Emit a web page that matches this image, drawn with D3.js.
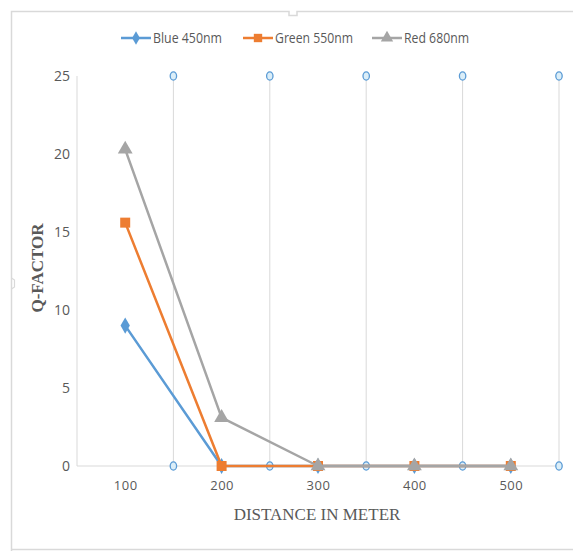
<!DOCTYPE html>
<html>
<head>
<meta charset="utf-8">
<script src="https://cdn.jsdelivr.net/npm/d3@7"></script>
<style>
  html, body { margin: 0; padding: 0; background: #fff; }
  svg { display: block; }
</style>
</head>
<body>
<svg id="chart" width="573" height="551"></svg>
<script>
// Distances (m) and Q-factor per wavelength
const distances = [100, 200, 300, 400, 500];
const blue450 = [9.0, 0, 0, 0, 0];
const green550 = [15.6, 0, 0, 0, 0];
const red680 = [20.3, 3.1, 0, 0, 0];
const yTicks = [0, 5, 10, 15, 20, 25];
const gridPositions = [150, 250, 350, 450, 550];

const seriesList = [
  { name: "Blue 450nm", values: blue450, color: "#5b9bd5", marker: d3.symbolDiamond, size: 75, legendW: 69 },
  { name: "Green 550nm", values: green550, color: "#ed7d31", marker: d3.symbolSquare, size: 100, legendW: 78 },
  { name: "Red 680nm", values: red680, color: "#a5a5a5", marker: d3.symbolTriangle, size: 95, legendW: 65 }
];

const svg = d3.select("#chart");
const tickFont = "'Liberation Sans Narrow', 'Open Sans', sans-serif";
const titleFont = "'Liberation Serif', 'DejaVu Serif', serif";

// Chart frame
svg.append("path")
  .attr("d", "M11.5,560 L11.5,11.5 L289,11.5 L289,15.5 L297,15.5 L297,11.5 L580,11.5 M11.5,549.5 L580,549.5")
  .attr("fill", "none").attr("stroke", "#d9d9d9").attr("stroke-width", 1.5);
svg.append("path")
  .attr("d", "M11.5,278 L14.5,280 L14.5,287 L11.5,289")
  .attr("fill", "none").attr("stroke", "#d9d9d9").attr("stroke-width", 1.2);

const x = d3.scaleLinear().domain([50, 550]).range([77, 559]);
const y = d3.scaleLinear().domain([0, 25]).range([466, 76]);

// Vertical grid lines
const g = svg.append("g");
g.selectAll("line.grid")
  .data([50].concat(gridPositions))
  .join("line")
  .attr("class", "grid")
  .attr("x1", d => x(d)).attr("x2", d => x(d))
  .attr("y1", y(0)).attr("y2", y(25))
  .attr("stroke", "#d9d9d9").attr("stroke-width", 1);

// Horizontal axis line
g.append("line")
  .attr("x1", x(50)).attr("x2", x(550))
  .attr("y1", y(0)).attr("y2", y(0))
  .attr("stroke", "#d9d9d9").attr("stroke-width", 1);

// Y axis labels
const yAxis = d3.axisLeft(y).tickValues(yTicks).tickSize(0).tickPadding(0);
const yG = svg.append("g").attr("transform", "translate(70,0)").call(yAxis);
yG.select(".domain").remove();
yG.selectAll("text")
  .attr("font-family", tickFont).attr("font-size", 14).attr("fill", "#595959");

// X axis labels
const xAxis = d3.axisBottom(x).tickValues(distances).tickSize(0).tickPadding(0);
const xG = svg.append("g").attr("transform", "translate(0,481)").call(xAxis);
xG.select(".domain").remove();
xG.selectAll("text")
  .attr("font-family", tickFont).attr("font-size", 13).attr("fill", "#595959")
  .attr("letter-spacing", "0.5px");

// Circle markers at the ends of the grid lines
[0, 25].forEach(v => {
  g.selectAll(null)
    .data(gridPositions)
    .join("ellipse")
    .attr("cx", d => x(d)).attr("cy", y(v))
    .attr("rx", 3.2).attr("ry", 4.2)
    .attr("fill", "#dbeef8").attr("stroke", "#5b9bd5").attr("stroke-width", 1.3);
});

const line = d3.line().x(d => x(d[0])).y(d => y(d[1]));

// Draw the series (blue first, grey last, on top)
seriesList.forEach(s => {
  const pts = distances.map((d, i) => [d, s.values[i]]);
  const sg = svg.append("g");
  sg.append("path")
    .attr("d", line(pts))
    .attr("fill", "none").attr("stroke", s.color).attr("stroke-width", 2.5)
    .attr("stroke-linejoin", "round");
  sg.selectAll("path.m")
    .data(pts)
    .join("path")
    .attr("class", "m")
    .attr("transform", d => `translate(${x(d[0])},${y(d[1])})`)
    .attr("d", d3.symbol().type(s.marker).size(s.size)())
    .attr("fill", s.color);
});

// Legend
const legendX = [121, 243, 372];
seriesList.forEach((s, i) => {
  const lg = svg.append("g").attr("transform", `translate(${legendX[i]},38)`);
  lg.append("line").attr("x1", 0).attr("x2", 30).attr("y1", 0).attr("y2", 0)
    .attr("stroke", s.color).attr("stroke-width", 2.5);
  lg.append("path").attr("transform", "translate(15,0)")
    .attr("d", d3.symbol().type(s.marker).size(s.size * 0.7)())
    .attr("fill", s.color);
  lg.append("text").attr("x", 32).attr("y", 5)
    .attr("font-family", tickFont).attr("font-size", 14).attr("fill", "#595959")
    .attr("textLength", s.legendW).attr("lengthAdjust", "spacingAndGlyphs")
    .text(s.name);
});

// Axis titles
svg.append("text")
  .attr("x", 317).attr("y", 520)
  .attr("text-anchor", "middle")
  .attr("font-family", titleFont).attr("font-size", 17).attr("fill", "#595959")
  .text("DISTANCE IN METER");

svg.append("text")
  .attr("transform", "translate(43,268) rotate(-90)")
  .attr("text-anchor", "middle")
  .attr("font-family", titleFont).attr("font-size", 17).attr("font-weight", "bold")
  .attr("fill", "#595959")
  .text("Q-FACTOR");
</script>
</body>
</html>
